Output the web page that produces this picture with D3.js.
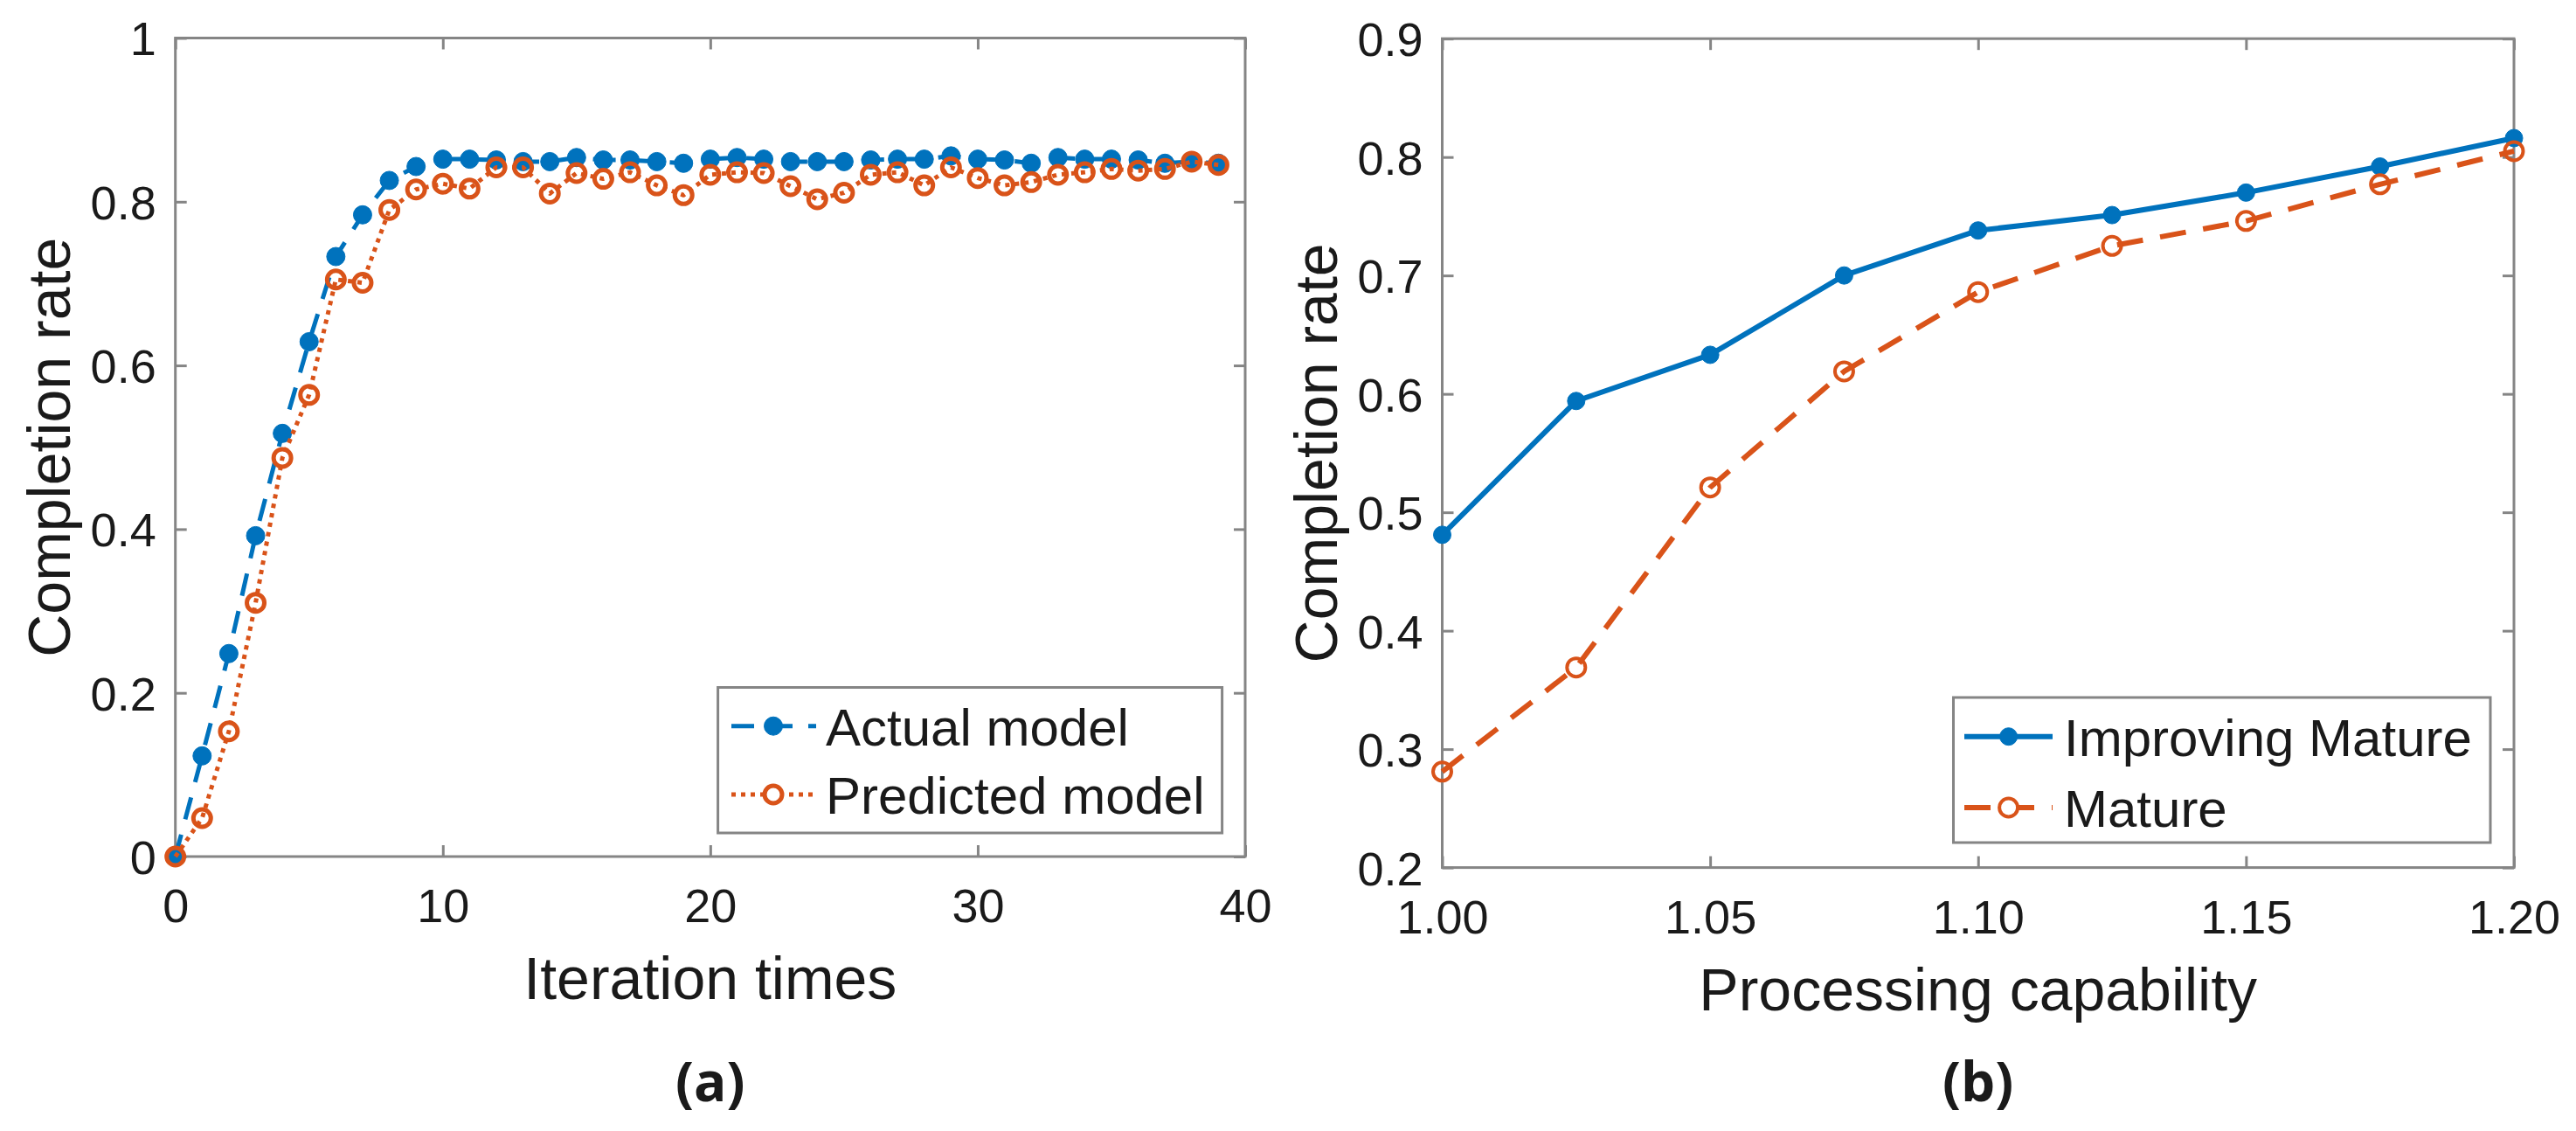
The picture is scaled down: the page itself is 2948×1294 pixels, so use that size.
<!DOCTYPE html>
<html>
<head>
<meta charset="utf-8">
<script src="https://cdn.jsdelivr.net/npm/d3@7"></script>
<style>
  body { margin: 0; background: #fff; }
  svg text { font-family: "Liberation Sans", Arial, Helvetica, sans-serif; fill: #1a1a1a; }
</style>
</head>
<body>
<div id="chart"></div>
<script>
// ---- data (a): iteration times vs completion rate ----
const iterations = d3.range(0, 40);
const actualModel = [
  0, 0.123, 0.248, 0.392, 0.517, 0.629, 0.733, 0.784, 0.826, 0.843,
  0.852, 0.852, 0.851, 0.849, 0.849, 0.854, 0.851, 0.851, 0.849, 0.847,
  0.852, 0.854, 0.852, 0.849, 0.849, 0.849, 0.851, 0.852, 0.852, 0.856,
  0.852, 0.851, 0.847, 0.854, 0.852, 0.852, 0.851, 0.847, 0.849, 0.847
];
const predictedModel = [
  0, 0.047, 0.153, 0.310, 0.487, 0.564, 0.705, 0.701, 0.790, 0.815,
  0.822, 0.816, 0.842, 0.842, 0.810, 0.835, 0.828, 0.836, 0.820, 0.808,
  0.833, 0.836, 0.835, 0.819, 0.803, 0.811, 0.833, 0.836, 0.820, 0.842,
  0.829, 0.820, 0.824, 0.833, 0.836, 0.840, 0.838, 0.840, 0.849, 0.845
];
const ticksA_x = [0, 10, 20, 30, 40];
const ticksA_y = [0, 0.2, 0.4, 0.6, 0.8, 1];

// ---- data (b): processing capability vs completion rate ----
const capability = [1.000, 1.025, 1.050, 1.075, 1.100, 1.125, 1.150, 1.175, 1.200];
const improvingMature = [0.481, 0.594, 0.633, 0.700, 0.738, 0.751, 0.770, 0.792, 0.816];
const mature = [0.281, 0.369, 0.521, 0.619, 0.686, 0.725, 0.746, 0.777, 0.805];
const ticksB_x = [1.00, 1.05, 1.10, 1.15, 1.20];
const ticksB_y = [0.2, 0.3, 0.4, 0.5, 0.6, 0.7, 0.8, 0.9];

const BLUE = '#0072BD';
const ORANGE = '#D95319';
const AXIS = '#858585';

const W = 2948, H = 1294;
const svg = d3.select('#chart').append('svg')
  .attr('width', W).attr('height', H);
svg.append('rect').attr('width', W).attr('height', H).attr('fill', '#fff');

function drawPanel(cfg) {
  const x = d3.scaleLinear().domain(cfg.xDomain).range([cfg.left, cfg.right]);
  const y = d3.scaleLinear().domain(cfg.yDomain).range([cfg.bottom, cfg.top]);
  const g = svg.append('g');
  const tick = 13;

  // bottom axis with labels
  const bx = g.append('g').attr('transform', `translate(0,${cfg.bottom})`)
    .call(d3.axisBottom(x).tickValues(cfg.xTicks).tickFormat(cfg.xFormat)
      .tickSizeInner(-tick).tickSizeOuter(0));
  bx.selectAll('text').attr('y', 75).attr('dy', null)
    .style('font-size', '54px');
  // top axis (ticks only)
  g.append('g').attr('transform', `translate(0,${cfg.top})`)
    .call(d3.axisTop(x).tickValues(cfg.xTicks).tickFormat('')
      .tickSizeInner(-tick).tickSizeOuter(0));
  // left axis with labels
  const ly = g.append('g').attr('transform', `translate(${cfg.left},0)`)
    .call(d3.axisLeft(y).tickValues(cfg.yTicks).tickFormat(cfg.yFormat)
      .tickSizeInner(-tick).tickSizeOuter(0));
  ly.selectAll('text').attr('x', -22).attr('dy', '0.36em')
    .style('font-size', '54px');
  // right axis (ticks only)
  g.append('g').attr('transform', `translate(${cfg.right},0)`)
    .call(d3.axisRight(y).tickValues(cfg.yTicks).tickFormat('')
      .tickSizeInner(-tick).tickSizeOuter(0));

  g.selectAll('.domain').remove();
  g.selectAll('.tick line').attr('stroke', AXIS).attr('stroke-width', 3);
  g.selectAll('.tick text').attr('fill', '#1a1a1a')
    .style('font-family', '"Liberation Sans", Arial, sans-serif');

  // box
  g.append('rect')
    .attr('x', cfg.left).attr('y', cfg.top)
    .attr('width', cfg.right - cfg.left).attr('height', cfg.bottom - cfg.top)
    .attr('fill', 'none').attr('stroke', AXIS).attr('stroke-width', 3);

  // series
  cfg.series.forEach(s => {
    const pts = cfg.xValues.map((d, i) => [d, s.values[i]]);
    g.append('path')
      .datum(pts)
      .attr('d', d3.line().x(d => x(d[0])).y(d => y(d[1])))
      .attr('fill', 'none')
      .attr('stroke', s.color)
      .attr('stroke-width', s.width)
      .attr('stroke-dasharray', s.dash)
      .attr('stroke-linejoin', 'round');
    g.append('g').selectAll('circle')
      .data(pts).enter().append('circle')
      .attr('cx', d => x(d[0]))
      .attr('cy', d => y(d[1]))
      .attr('r', s.r)
      .attr('fill', s.filled ? s.color : 'none')
      .attr('stroke', s.color)
      .attr('stroke-width', s.filled ? 1 : s.mw);
  });

  // axis titles
  g.append('text')
    .attr('x', (cfg.left + cfg.right) / 2).attr('y', cfg.bottom + 163)
    .attr('text-anchor', 'middle').style('font-size', '68px')
    .text(cfg.xLabel);
  g.append('text')
    .attr('transform', `translate(${cfg.left - 121},${(cfg.top + cfg.bottom) / 2}) rotate(-90)`)
    .attr('text-anchor', 'middle').style('font-size', '68px')
    .text(cfg.yLabel);

  // panel tag
  g.append('text')
    .attr('x', (cfg.left + cfg.right) / 2).attr('y', 1260)
    .attr('text-anchor', 'middle')
    .style('font-family', '"Open Sans", "Liberation Sans", sans-serif')
    .style('font-weight', 700).style('font-size', '62px')
    .text(cfg.tag);

  // legend
  const lg = cfg.legend;
  g.append('rect')
    .attr('x', lg.x).attr('y', lg.y).attr('width', lg.w).attr('height', lg.h)
    .attr('fill', '#fff').attr('stroke', AXIS).attr('stroke-width', 3);
  cfg.series.forEach((s, i) => {
    const ry = lg.rows[i];
    g.append('line')
      .attr('x1', lg.lineX[0]).attr('x2', lg.lineX[1])
      .attr('y1', ry).attr('y2', ry)
      .attr('stroke', s.color).attr('stroke-width', s.width)
      .attr('stroke-dasharray', s.dash);
    g.append('circle')
      .attr('cx', lg.markX).attr('cy', ry).attr('r', s.r)
      .attr('fill', s.filled ? s.color : '#fff')
      .attr('stroke', s.color).attr('stroke-width', s.filled ? 1 : s.mw);
    g.append('text')
      .attr('x', lg.textX).attr('y', ry + 22)
      .style('font-size', '60px')
      .text(s.name);
  });
}

drawPanel({
  left: 200.7, right: 1425, top: 43.5, bottom: 980,
  xDomain: [0, 40], yDomain: [0, 1],
  xTicks: ticksA_x, yTicks: ticksA_y,
  xFormat: d3.format('d'), yFormat: d => d === 0 || d === 1 ? String(d) : d3.format('.1f')(d),
  xValues: iterations,
  xLabel: 'Iteration times', yLabel: 'Completion rate', tag: '(a)',
  series: [
    { name: 'Actual model', values: actualModel, color: BLUE, width: 5, dash: '26,18', r: 10.5, filled: true },
    { name: 'Predicted model', values: predictedModel, color: ORANGE, width: 5, dash: '5,6', r: 10, filled: false, mw: 5 }
  ],
  legend: { x: 821.6, y: 786.5, w: 577, h: 166.5, rows: [830.7, 909], lineX: [837, 934], markX: 885, textX: 945 }
});

drawPanel({
  left: 1650.5, right: 2877, top: 44.2, bottom: 992.6,
  xDomain: [1.0, 1.2], yDomain: [0.2, 0.9],
  xTicks: ticksB_x, yTicks: ticksB_y,
  xFormat: d3.format('.2f'), yFormat: d3.format('.1f'),
  xValues: capability,
  xLabel: 'Processing capability', yLabel: 'Completion rate', tag: '(b)',
  series: [
    { name: 'Improving Mature', values: improvingMature, color: BLUE, width: 6, dash: null, r: 10, filled: true },
    { name: 'Mature', values: mature, color: ORANGE, width: 6, dash: '30,20', r: 10.5, filled: false, mw: 4 }
  ],
  legend: { x: 2235.5, y: 798, w: 614.5, h: 166, rows: [842.7, 924], lineX: [2248, 2349], markX: 2298.6, textX: 2362 }
});
</script>
</body>
</html>
